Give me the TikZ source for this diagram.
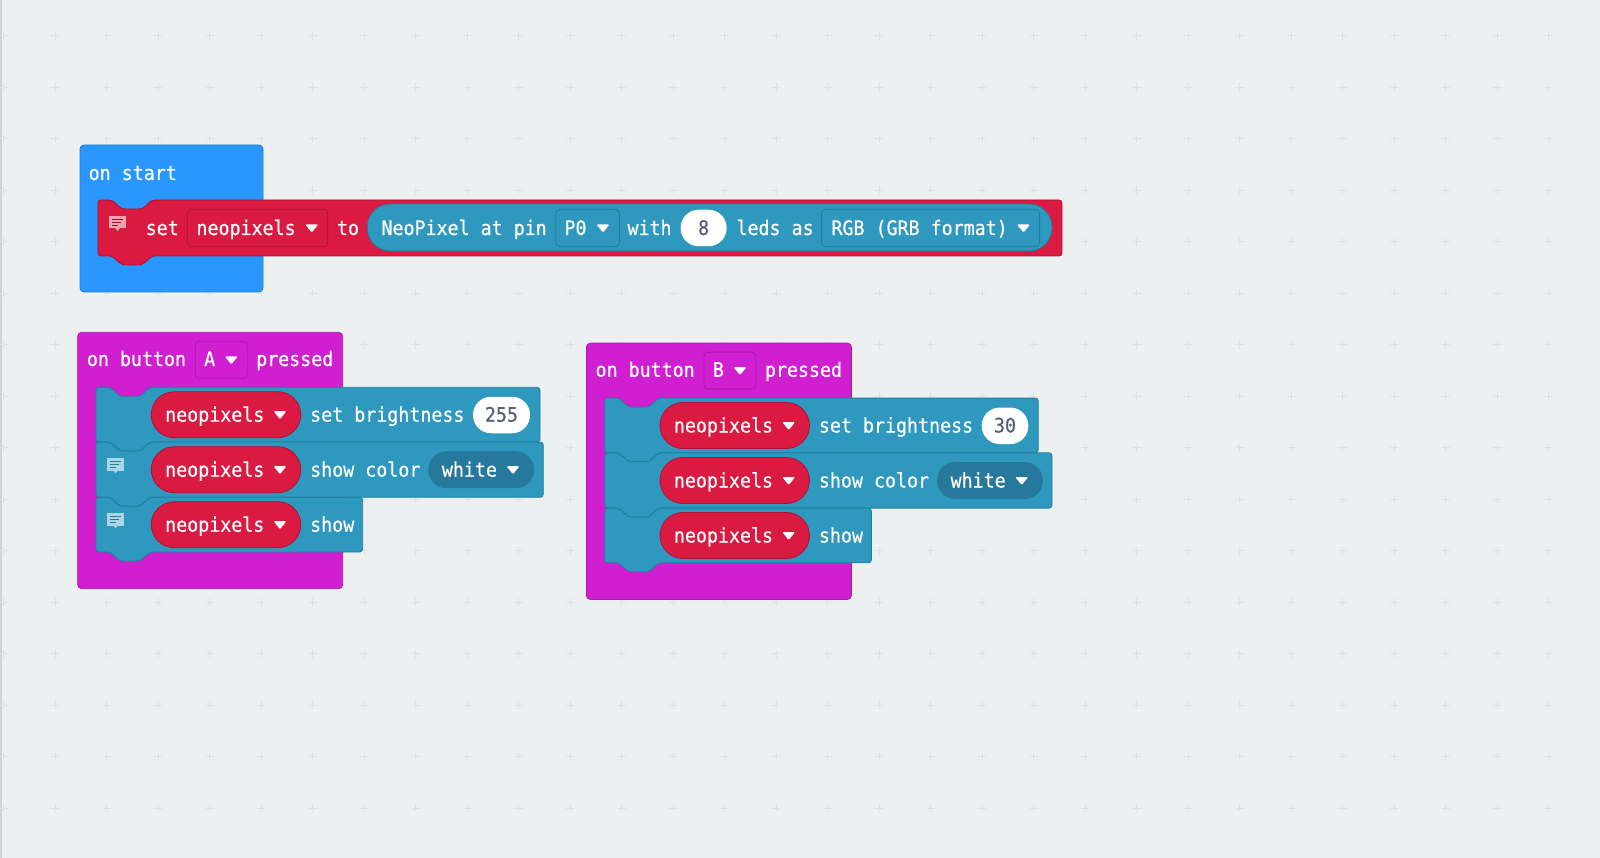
\documentclass[tikz,border=0pt]{standalone}
\usepackage{fontspec}
\usepackage{tikz}
\newfontfamily\blockfont[FakeStretch=0.915,FakeBold=0.5]{DejaVu Sans Mono}
\definecolor{canvas}{HTML}{ECF0F1}
\definecolor{startblue}{HTML}{2A96FF}
\definecolor{startline}{HTML}{1F7AD0}
\definecolor{buttonpink}{HTML}{D01FD0}
\definecolor{buttonline}{HTML}{AA18AB}
\definecolor{neoteal}{HTML}{2E98BE}
\definecolor{tealline}{HTML}{1F7F9F}
\definecolor{tealdark}{HTML}{26799C}
\definecolor{neored}{HTML}{DA1A41}
\definecolor{redline}{HTML}{B01134}
\definecolor{slate}{HTML}{575E75}
\tikzstyle{gridplus}=[draw=black!6!canvas,line width=0.8pt]
\tikzstyle{hatblue}=[fill=startblue,draw=startline,rounded corners=4pt,line width=0.8pt]
\tikzstyle{hatpink}=[fill=buttonpink,draw=buttonline,rounded corners=4pt,line width=0.8pt]
\tikzstyle{redblock}=[fill=neored,draw=redline,rounded corners=3pt,line width=0.8pt]
\tikzstyle{tealblock}=[fill=neoteal,draw=tealline,rounded corners=3pt,line width=0.8pt]
\tikzstyle{dropbox}=[draw,rounded corners=4pt,inner sep=0pt,line width=0.8pt]
\tikzstyle{redpill}=[fill=neored,draw=redline,rounded corners=23pt,minimum width=149.5pt,minimum height=46pt,inner sep=0pt,line width=0.8pt]
\tikzstyle{whitepill}=[fill=white,rounded corners=18pt,minimum height=36.5pt,inner sep=0pt]
\tikzstyle{darkpill}=[fill=tealdark,rounded corners=18pt,minimum height=37pt,minimum width=105.7pt,inner sep=0pt]
\tikzstyle{blocktext}=[inner sep=0pt,anchor=base west,text=white,font=\blockfont\fontsize{20}{20}\selectfont]
\tikzstyle{valuetext}=[inner sep=0pt,anchor=base,text=slate,font=\blockfont\fontsize{20}{20}\selectfont]
% block with a dent on top and a tab below: style, left, top, right, bottom
\newcommand{\stackblock}[5]{
  \draw[#1] (#2,#3) -- ({#2+14},#3) -- ({#2+24},{#3+9}) -- ({#2+44},{#3+9}) -- ({#2+54},#3)
    -- (#4,#3) -- (#4,#5) -- ({#2+54},#5) -- ({#2+44},{#5+9}) -- ({#2+24},{#5+9}) -- ({#2+14},#5)
    -- (#2,#5) -- cycle;
}
% small dropdown triangle: centre x, centre y
\newcommand{\droparrow}[2]{
  \fill[white,rounded corners=1.2pt] ({#1-6.5},{#2-3.5}) -- ({#1+6.5},{#2-3.5}) -- (#1,{#2+4.5}) -- cycle;
}
% comment icon: left, top, fill, line colour
\newcommand{\noteicon}[4]{
  \fill[#3] (#1,#2) rectangle ({#1+16.5},{#2+12.5});
  \fill[#3] ({#1+6},{#2+12}) -- ({#1+11},{#2+12}) -- ({#1+8.5},{#2+15}) -- cycle;
  \draw[#4,line width=0.9pt] ({#1+3},{#2+3}) -- ({#1+13.5},{#2+3}) ({#1+3},{#2+6}) -- ({#1+12},{#2+6}) ({#1+3},{#2+9}) -- ({#1+9},{#2+9});
}
% row with the red neopixels pill: name, centre y
\newcommand{\neorow}[2]{
  \node[redpill] (#1pill) at (226,#2) {};
  \node[blocktext] (#1neo) at (165,{#2+7}) {neopixels};
  \droparrow{280}{#2}
}
% on button group: letter, brightness, width of the white pill
\newcommand{\buttongroup}[3]{
  \draw[hatpink] (77.7,332.3) rectangle (342.7,588.7);
  \node[blocktext] (onbutton) at (86.7,366) {on button};
  \node[dropbox,draw=buttonline,minimum width=52pt,minimum height=37pt] (letterbox) at (221.2,359.8) {};
  \node[blocktext] (letter) at (204,366) {#1};
  \droparrow{231.3}{359.8}
  \node[blocktext] (pressed) at (256,366) {pressed};
  \stackblock{tealblock}{96}{387.3}{{483+#3}}{442}
  \stackblock{tealblock}{96}{442}{543.3}{497.3}
  \stackblock{tealblock}{96}{497.3}{362.7}{552}
  \neorow{first}{414.7}
  \node[blocktext] (setbright) at (310,421.7) {set brightness};
  \node[whitepill,minimum width=#3 pt] (brightpill) at ({473+#3/2},415) {};
  \node[valuetext] (brightval) at (brightpill |- 0,421.7) {#2};
  \neorow{second}{469.7}
  \node[blocktext] (showcolor) at (310,476.7) {show color};
  \node[darkpill] (colorpill) at (481.2,469.7) {};
  \node[blocktext] (colorname) at (441.7,476.7) {white};
  \droparrow{513}{469.7}
  \neorow{third}{524.7}
  \node[blocktext] (show) at (310,531.7) {show};
}

\begin{document}
\begin{tikzpicture}[x=1pt,y=-1pt]
\useasboundingbox (0,0) rectangle (1600,858);
\fill[canvas] (0,0) rectangle (1600,858);
\fill[black!12!canvas] (0,0) rectangle (2,858);
\foreach \i in {0,...,30}
  \foreach \j in {0,...,15}
    \draw[gridplus] ({3.5+51.5*\i-4},{35.7+51.5*\j}) -- ({3.5+51.5*\i+4},{35.7+51.5*\j})
      ({3.5+51.5*\i},{35.7+51.5*\j-4}) -- ({3.5+51.5*\i},{35.7+51.5*\j+4});

% on start
\draw[hatblue] (80,145) rectangle (263,292);
\node[blocktext] (onstart) at (88.5,180) {on start};
\stackblock{redblock}{98}{200}{1062}{256}
\noteicon{109}{216}{neored!40!white}{neored!70!black}
\node[blocktext] (settext) at (145.5,235) {set};
\node[dropbox,draw=redline,minimum width=140.4pt,minimum height=37.4pt] (varbox) at (257.5,228) {};
\node[blocktext] (varname) at (196.3,235) {neopixels};
\droparrow{311.7}{228}
\node[blocktext] (totext) at (336.8,235) {to};
\draw[fill=neoteal,draw=tealline,rounded corners=23pt,line width=0.8pt] (367.3,204) rectangle (1052,251);
\node[blocktext] (neopin) at (381.3,235) {NeoPixel at pin};
\node[dropbox,draw=tealline,minimum width=63.7pt,minimum height=37.4pt] (pinbox) at (587.6,228) {};
\node[blocktext] (pinname) at (564.3,235) {P0};
\droparrow{603}{228}
\node[blocktext] (withtext) at (627.3,235) {with};
\node[whitepill,minimum width=46pt] (ledpill) at (703.6,228) {};
\node[valuetext] (ledcount) at (ledpill |- 0,235) {8};
\node[blocktext] (ledsas) at (736.3,235) {leds as};
\node[dropbox,draw=tealline,minimum width=218pt,minimum height=37.4pt] (formatbox) at (930.6,228) {};
\node[blocktext] (formatname) at (831.3,235) {RGB (GRB format)};
\droparrow{1023.5}{228}

% button A
\begin{scope}[name prefix=a-]
\buttongroup{A}{255}{57}
\noteicon{107}{458.3}{neoteal!40!white}{neoteal!80!black}
\noteicon{107}{513.3}{neoteal!40!white}{neoteal!80!black}
\end{scope}

% button B
\begin{scope}[name prefix=b-,shift={(508.7,10.8)}]
\buttongroup{B}{30}{46.6}
\end{scope}
\end{tikzpicture}
\end{document}
